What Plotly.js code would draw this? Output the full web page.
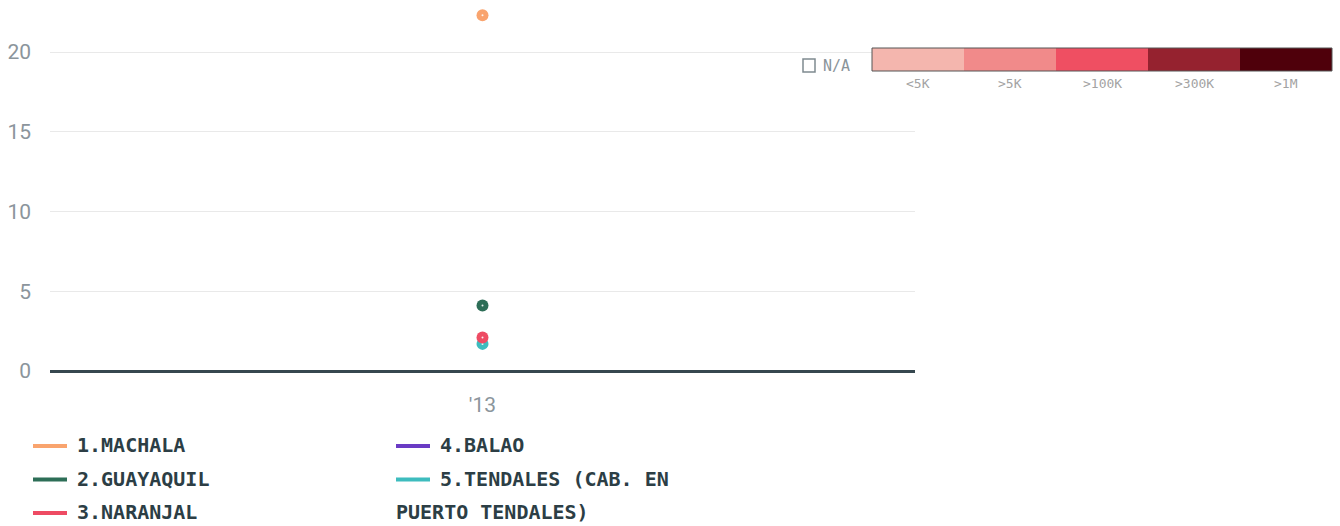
<!DOCTYPE html>
<html>
<head>
<meta charset="utf-8">
<script src="https://cdn.plot.ly/plotly-3.0.1.min.js"></script>
<style>html,body{margin:0;padding:0;background:#fff;}#chart{width:1340px;height:526px;}</style>
</head>
<body>
<div id="chart"></div>
<script>
// ---- data ----
const years = ["'13"];
const seriesNames = ["1.MACHALA", "2.GUAYAQUIL", "3.NARANJAL", "4.BALAO", "5.TENDALES (CAB. EN PUERTO TENDALES)"];
const seriesColors = ["#f9a46e", "#2d6e57", "#ee4b63", "#6a3bc4", "#3dbcbe"];
const machala = [22.3];
const guayaquil = [4.1];
const naranjal = [2.1];
const balao = [null];
const tendales = [1.7];
const seriesValues = [machala, guayaquil, naranjal, balao, tendales];
const drawOrder = [0, 1, 3, 4, 2];
const yTicks = [0, 5, 10, 15, 20];
const binLabels = ["<5K", ">5K", ">100K", ">300K", ">1M"];
const binColors = ["#f4b6ae", "#f18a8a", "#ef4f62", "#95222f", "#4f000b"];
const naLabel = "N/A";

// ---- geometry helpers (page pixels -> paper coords) ----
const W = 1340, H = 526;
const M = {l: 50, r: 425, t: 0, b: 155};
const PW = W - M.l - M.r, PH = H - M.t - M.b;
const px = x => (x - M.l) / PW;
const py = y => (H - M.b - y) / PH;

const traces = [];
drawOrder.forEach(i => {
  traces.push({
    type: 'scatter', mode: 'markers', x: years, y: seriesValues[i],
    name: seriesNames[i], showlegend: false, hoverinfo: 'skip',
    marker: {color: seriesColors[i], size: 12, line: {width: 0}},
    cliponaxis: false
  });
  traces.push({
    type: 'scatter', mode: 'markers', x: years, y: seriesValues[i],
    showlegend: false, hoverinfo: 'skip',
    marker: {color: 'rgba(255,255,255,0.9)', size: 2},
    cliponaxis: false
  });
});

const shapes = [];
const annotations = [];

// legend (two columns)
const legendFont = {family: 'DejaVu Sans Mono', size: 20, color: '#2c3e45', weight: 'bold'};
seriesNames.forEach((name, i) => {
  const col = i < 3 ? 0 : 1;
  const row = i < 3 ? i : i - 3;
  const x0 = col === 0 ? 33 : 396;
  const yc = 445 + row * 33.5;
  shapes.push({type: 'line', xref: 'paper', yref: 'paper', x0: px(x0), x1: px(x0 + 34), y0: py(yc + 1), y1: py(yc + 1),
    line: {color: seriesColors[i], width: 4}});
  let first = name, rest = null;
  const cut = name.indexOf(' PUERTO');
  if (cut > 0) { first = name.slice(0, cut); rest = name.slice(cut + 1); }
  annotations.push({xref: 'paper', yref: 'paper', x: px(x0 + 42), y: py(yc), xanchor: 'left', yanchor: 'middle',
    text: '<b>' + first + '</b>', showarrow: false, font: legendFont});
  if (rest) {
    annotations.push({xref: 'paper', yref: 'paper', x: px(x0 - 2), y: py(yc + 33.5), xanchor: 'left', yanchor: 'middle',
      text: '<b>' + rest + '</b>', showarrow: false, font: legendFont});
  }
});

// color scale legend
const bx0 = 872, bx1 = 1332, by0 = 48, by1 = 71;
const bw = (bx1 - bx0) / binColors.length;
binColors.forEach((c, i) => {
  shapes.push({type: 'rect', xref: 'paper', yref: 'paper', x0: px(bx0 + i * bw), x1: px(bx0 + (i + 1) * bw),
    y0: py(by1), y1: py(by0), fillcolor: c, line: {width: 0}, layer: 'above'});
  annotations.push({xref: 'paper', yref: 'paper', x: px(bx0 + (i + 0.5) * bw), y: py(84), xanchor: 'center', yanchor: 'middle',
    text: binLabels[i], showarrow: false, font: {family: 'DejaVu Sans Mono', size: 13, color: '#a3a3a3'}});
});
shapes.push({type: 'rect', xref: 'paper', yref: 'paper', x0: px(bx0), x1: px(bx1), y0: py(by1), y1: py(by0),
  fillcolor: 'rgba(0,0,0,0)', line: {color: '#555', width: 1}, layer: 'above'});
shapes.push({type: 'rect', xref: 'paper', yref: 'paper', x0: px(803), x1: px(815), y0: py(72), y1: py(59),
  fillcolor: 'rgba(0,0,0,0)', line: {color: '#7f8a90', width: 1.5}, layer: 'above'});
annotations.push({xref: 'paper', yref: 'paper', x: px(821), y: py(66), xanchor: 'left', yanchor: 'middle',
  text: naLabel, showarrow: false, font: {family: 'DejaVu Sans Mono', size: 15, color: '#8a949a'}});

const layout = {
  width: W, height: H,
  margin: M,
  paper_bgcolor: '#fff', plot_bgcolor: '#fff',
  showlegend: false,
  xaxis: {type: 'category', range: [-0.5, 0.5], showgrid: false, zeroline: false, showline: false,
    ticks: '', ticklabelstandoff: 19, tickfont: {family: 'Roboto', size: 21, color: '#8b959c'}, fixedrange: true},
  yaxis: {range: [0, 23.26], tickvals: yTicks, ticktext: yTicks.map(String), showgrid: true, gridcolor: '#e9e9e9', gridwidth: 1,
    zeroline: true, zerolinecolor: '#36474f', zerolinewidth: 3, showline: false, ticks: '', ticklabelstandoff: 18,
    tickfont: {family: 'Roboto', size: 21, color: '#8b959c'}, fixedrange: true},
  shapes: shapes,
  annotations: annotations
};

Plotly.newPlot('chart', traces, layout, {staticPlot: true, displayModeBar: false});
</script>
</body>
</html>
